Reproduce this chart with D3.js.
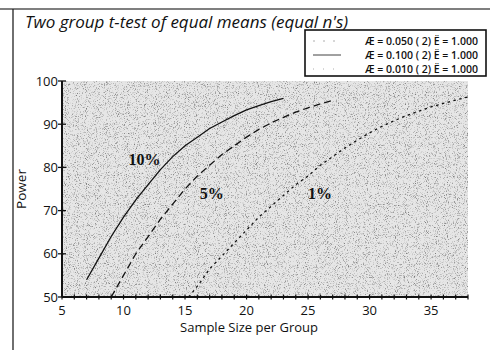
<!DOCTYPE html>
<html>
<head>
<meta charset="utf-8">
<script src="https://cdn.jsdelivr.net/npm/d3@7"></script>
<style>
  body { margin: 0; background: #fff; }
  svg { display: block; }
  text { font-family: "Open Sans", "DejaVu Sans", sans-serif; fill: #111; }
</style>
</head>
<body>
<div id="chart"></div>
<script>
// power curves (sample size per group -> power %)
const n10 = [7, 8, 9, 10, 11, 12, 13, 14, 15, 16, 17, 18, 19, 20, 21, 22, 23];
const p10 = [54, 59, 64, 68.5, 72.5, 76, 79.5, 82.5, 85, 87, 89, 90.5, 92, 93.3, 94.3, 95.2, 96];

const n05 = [9, 10, 11, 12, 13, 14, 15, 16, 17, 18, 19, 20, 21, 22, 23, 24, 25, 26, 27];
const p05 = [50, 55, 60, 64, 68, 71.5, 75, 78, 80.5, 83, 85, 87, 88.8, 90.3, 91.6, 92.8, 93.8, 94.7, 95.5];

const n01 = [15.3, 16, 17, 18, 19, 20, 21, 22, 23, 24, 25, 26, 27, 28, 29, 30, 31, 32, 33, 34, 35, 36, 37, 38];
const p01 = [50, 52.5, 56.5, 59.5, 62.5, 65.5, 68.5, 71, 73.5, 76, 78, 80.5, 82.5, 84.5, 86.3, 88, 89.5, 90.8, 92, 93, 94, 94.8, 95.6, 96.3];

const legendLabels = [
  "Æ = 0.050 ( 2) Ë = 1.000",
  "Æ = 0.100 ( 2) Ë = 1.000",
  "Æ = 0.010 ( 2) Ë = 1.000"
];
const curveLabels = ["10%", "5%", "1%"];
const curveLabelAt = [[10.4, 80.5], [16.2, 72.8], [25, 72.8]];

const xTicks = [5, 10, 15, 20, 25, 30, 35];
const yTicks = [50, 60, 70, 80, 90, 100];

const W = 490, H = 350;
const margin = {top: 81, right: 22, bottom: 53, left: 62};
const width = W - margin.left - margin.right;
const height = H - margin.top - margin.bottom;

const root = d3.select("#chart").append("svg")
  .attr("width", W)
  .attr("height", H);

// stippled grey texture for the plot background
const defs = root.append("defs");
const filt = defs.append("filter").attr("id", "stipple")
  .attr("x", 0).attr("y", 0).attr("width", 1).attr("height", 1);
filt.append("feTurbulence")
  .attr("type", "fractalNoise")
  .attr("baseFrequency", 1.1)
  .attr("numOctaves", 2)
  .attr("seed", 3)
  .attr("result", "noise");
filt.append("feColorMatrix")
  .attr("in", "noise")
  .attr("type", "matrix")
  .attr("values", "0 0 0 0 0.2  0 0 0 0 0.2  0 0 0 0 0.2  -3.2 0 0 0 1.5")
  .attr("result", "dots");
filt.append("feComposite").attr("in", "dots").attr("in2", "SourceGraphic").attr("operator", "in");

// outer frame (scanned page edge)
root.append("line").attr("x1", 0).attr("x2", W).attr("y1", 9).attr("y2", 9)
  .attr("stroke", "#555").attr("stroke-width", 1.5);
root.append("line").attr("x1", 13).attr("x2", 13).attr("y1", 9).attr("y2", H)
  .attr("stroke", "#222").attr("stroke-width", 1.3);

root.append("text")
  .attr("x", 25).attr("y", 28)
  .style("font-size", "17px")
  .style("font-style", "italic")
  .text("Two group t-test of equal means (equal n's)");

const svg = root.append("g")
  .attr("transform", `translate(${margin.left}, ${margin.top})`);

const x = d3.scaleLinear().domain([5, 38]).range([0, width]);
const y = d3.scaleLinear().domain([50, 100]).range([height, 0]);

svg.append("rect")
  .attr("width", width).attr("height", height)
  .attr("fill", "#e6e6e6");
svg.append("rect")
  .attr("width", width).attr("height", height)
  .attr("fill", "#fff")
  .attr("filter", "url(#stipple)");

// curves
const line = d3.line().x(d => x(d[0])).y(d => y(d[1]));
const series = [
  {n: n10, p: p10, dash: null},
  {n: n05, p: p05, dash: "7,4"},
  {n: n01, p: p01, dash: "2.5,3.5"}
];
series.forEach(s => {
  svg.append("path")
    .datum(d3.zip(s.n, s.p))
    .attr("fill", "none")
    .attr("stroke", "#111")
    .attr("stroke-width", 1.3)
    .attr("stroke-dasharray", s.dash)
    .attr("d", line);
});

svg.selectAll(".clabel")
  .data(curveLabels)
  .join("text")
  .attr("class", "clabel")
  .attr("x", (d, i) => x(curveLabelAt[i][0]))
  .attr("y", (d, i) => y(curveLabelAt[i][1]))
  .style("font-family", "'Liberation Serif', 'DejaVu Serif', serif")
  .style("font-size", "16px")
  .style("font-weight", "bold")
  .text(d => d);

// x axis
const xAxis = svg.append("g")
  .attr("transform", `translate(0, ${height})`);
xAxis.append("line").attr("x1", 0).attr("x2", width)
  .attr("stroke", "#111").attr("stroke-width", 2);
xAxis.selectAll(".minor")
  .data(d3.range(5, 39))
  .join("line")
  .attr("x1", d => x(d)).attr("x2", d => x(d))
  .attr("y1", -2.5).attr("y2", 2.5)
  .attr("stroke", "#111").attr("stroke-width", 1.2);
xAxis.selectAll(".xl")
  .data(xTicks)
  .join("text")
  .attr("x", d => x(d))
  .attr("y", 18)
  .attr("text-anchor", "middle")
  .style("font-size", "13px")
  .text(d => d);

// y axis
const yAxis = svg.append("g");
yAxis.append("line").attr("y1", 0).attr("y2", height)
  .attr("stroke", "#111").attr("stroke-width", 2);
yAxis.selectAll(".yt")
  .data(yTicks)
  .join("line")
  .attr("x1", -4).attr("x2", 4)
  .attr("y1", d => y(d)).attr("y2", d => y(d))
  .attr("stroke", "#111").attr("stroke-width", 1.3);
yAxis.selectAll(".yl")
  .data(yTicks)
  .join("text")
  .attr("x", -4)
  .attr("y", d => y(d))
  .attr("dy", "0.35em")
  .attr("text-anchor", "end")
  .style("font-size", "13px")
  .text(d => d);

root.append("text")
  .attr("transform", `translate(26, ${margin.top + height / 2}) rotate(-90)`)
  .attr("text-anchor", "middle")
  .style("font-size", "13.5px")
  .text("Power");

root.append("text")
  .attr("x", margin.left + width / 2 - 16)
  .attr("y", 332)
  .attr("text-anchor", "middle")
  .style("font-size", "13px")
  .text("Sample Size per Group");

// legend
const lg = root.append("g").attr("transform", "translate(305, 30)");
lg.append("rect")
  .attr("width", 181).attr("height", 46)
  .attr("fill", "#fff")
  .attr("stroke", "#111").attr("stroke-width", 1.6);
const legendDash = ["2,8", null, "1,9"];
legendLabels.forEach((t, i) => {
  const yy = 11 + i * 14;
  lg.append("line")
    .attr("x1", 8).attr("x2", 36)
    .attr("y1", yy).attr("y2", yy)
    .attr("stroke", i === 1 ? "#111" : "#999")
    .attr("stroke-width", 0.8)
    .attr("stroke-dasharray", legendDash[i]);
  lg.append("text")
    .attr("x", 60).attr("y", yy)
    .attr("dy", "0.35em")
    .style("font-size", "10.5px")
    .style("font-weight", 600)
    .text(t);
});
</script>
</body>
</html>
